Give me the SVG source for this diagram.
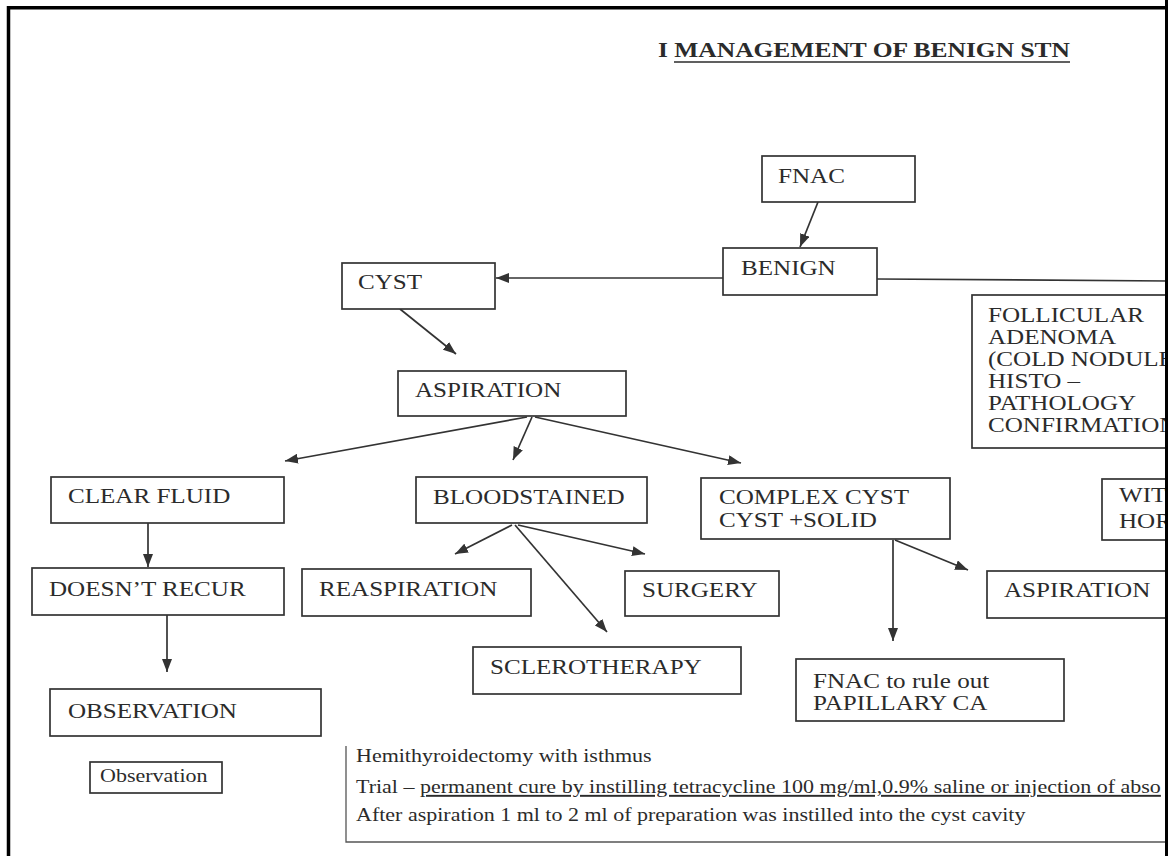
<svg xmlns="http://www.w3.org/2000/svg" width="1168" height="856" viewBox="0 0 1168 856">
<style>
  .box { fill: #ffffff; stroke: #333333; stroke-width: 1.7; }
  .lbl { font-family: "Liberation Serif", "Times New Roman", serif; font-size: 22px; fill: #2b2b2b; }
  .note { font-family: "Liberation Serif", "Times New Roman", serif; font-size: 19.3px; fill: #2b2b2b; }
  .title { font-family: "Liberation Serif", "Times New Roman", serif; font-size: 20px; font-weight: bold; fill: #2b2b2b; }
  .edge { stroke: #333333; stroke-width: 1.7; fill: none; }
  .edgea { stroke: #333333; stroke-width: 1.7; fill: none; marker-end: url(#ah); }
</style>
<defs>
  <marker id="ah" markerUnits="userSpaceOnUse" markerWidth="14" markerHeight="10" refX="13" refY="5" orient="auto">
    <path d="M0,0 L13,5 L0,10 z" fill="#333333"/>
  </marker>
</defs>
<rect x="0" y="0" width="1168" height="856" fill="#ffffff"/>

<g id="title">
  <text class="title" x="658" y="57" textLength="412" lengthAdjust="spacingAndGlyphs">I MANAGEMENT OF BENIGN STN</text>
  <line x1="674" y1="62" x2="1070" y2="62" stroke="#2b2b2b" stroke-width="1.6"/>
</g>

<g id="connectors">
  <line class="edgea" x1="818" y1="202" x2="800" y2="247"/>
  <line class="edgea" x1="723" y1="278" x2="496" y2="278"/>
  <line class="edge" x1="877" y1="279" x2="1168" y2="281"/>
  <line class="edgea" x1="400" y1="309" x2="456" y2="354"/>
  <line class="edgea" x1="527" y1="417" x2="285" y2="461"/>
  <line class="edgea" x1="532" y1="417" x2="513" y2="460"/>
  <line class="edgea" x1="535" y1="417" x2="741" y2="463"/>
  <line class="edgea" x1="148" y1="523" x2="148" y2="567"/>
  <line class="edgea" x1="167" y1="615" x2="167" y2="672"/>
  <line class="edgea" x1="512" y1="525" x2="455" y2="554"/>
  <line class="edgea" x1="515" y1="525" x2="607" y2="632"/>
  <line class="edgea" x1="518" y1="525" x2="645" y2="554"/>
  <line class="edgea" x1="893" y1="540" x2="893" y2="641"/>
  <line class="edgea" x1="895" y1="540" x2="968" y2="570"/>
</g>

<g id="fnac">
  <rect class="box" x="762" y="156" width="153" height="46"/>
  <text class="lbl" transform="translate(778,183) scale(1.14,1)">FNAC</text>
</g>
<g id="benign">
  <rect class="box" x="723" y="248" width="154" height="47"/>
  <text class="lbl" transform="translate(741,275) scale(1.14,1)">BENIGN</text>
</g>
<g id="cyst">
  <rect class="box" x="342" y="263" width="153" height="46"/>
  <text class="lbl" transform="translate(358,289) scale(1.14,1)">CYST</text>
</g>
<g id="aspiration">
  <rect class="box" x="398" y="371" width="228" height="45"/>
  <text class="lbl" transform="translate(415,397) scale(1.14,1)">ASPIRATION</text>
</g>
<g id="follicular">
  <rect class="box" x="972" y="295" width="230" height="153"/>
  <text class="lbl" transform="translate(988,322) scale(1.14,1)">FOLLICULAR</text>
  <text class="lbl" transform="translate(988,344) scale(1.14,1)">ADENOMA</text>
  <text class="lbl" transform="translate(988,366) scale(1.14,1)">(COLD NODULE</text>
  <text class="lbl" transform="translate(988,388) scale(1.14,1)">HISTO –</text>
  <text class="lbl" transform="translate(988,410) scale(1.14,1)">PATHOLOGY</text>
  <text class="lbl" transform="translate(988,432) scale(1.14,1)">CONFIRMATION</text>
</g>
<g id="clear-fluid">
  <rect class="box" x="51" y="477" width="233" height="46"/>
  <text class="lbl" transform="translate(68,503) scale(1.14,1)">CLEAR FLUID</text>
</g>
<g id="bloodstained">
  <rect class="box" x="416" y="477" width="231" height="46"/>
  <text class="lbl" transform="translate(433,504) scale(1.14,1)">BLOODSTAINED</text>
</g>
<g id="complex-cyst">
  <rect class="box" x="701" y="478" width="249" height="61"/>
  <text class="lbl" transform="translate(719,504) scale(1.14,1)">COMPLEX CYST</text>
  <text class="lbl" transform="translate(719,527) scale(1.14,1)">CYST +SOLID</text>
</g>
<g id="with-hormone">
  <rect class="box" x="1102" y="479" width="100" height="61"/>
  <text class="lbl" transform="translate(1119,502) scale(1.14,1)">WIT</text>
  <text class="lbl" transform="translate(1119,528) scale(1.14,1)">HOR</text>
</g>
<g id="doesnt-recur">
  <rect class="box" x="32" y="568" width="252" height="47"/>
  <text class="lbl" transform="translate(49,596) scale(1.14,1)">DOESN’T RECUR</text>
</g>
<g id="reaspiration">
  <rect class="box" x="302" y="569" width="229" height="47"/>
  <text class="lbl" transform="translate(319,596) scale(1.14,1)">REASPIRATION</text>
</g>
<g id="surgery">
  <rect class="box" x="625" y="571" width="154" height="45"/>
  <text class="lbl" transform="translate(642,597) scale(1.14,1)">SURGERY</text>
</g>
<g id="aspiration-2">
  <rect class="box" x="987" y="571" width="220" height="47"/>
  <text class="lbl" transform="translate(1004,597) scale(1.14,1)">ASPIRATION</text>
</g>
<g id="sclerotherapy">
  <rect class="box" x="473" y="647" width="268" height="47"/>
  <text class="lbl" transform="translate(490,674) scale(1.14,1)">SCLEROTHERAPY</text>
</g>
<g id="fnac-papillary">
  <rect class="box" x="796" y="659" width="268" height="62"/>
  <text class="lbl" transform="translate(813,688) scale(1.14,1)">FNAC to rule out</text>
  <text class="lbl" transform="translate(813,710) scale(1.14,1)">PAPILLARY CA</text>
</g>
<g id="observation">
  <rect class="box" x="50" y="689" width="271" height="47"/>
  <text class="lbl" transform="translate(68,718) scale(1.14,1)">OBSERVATION</text>
</g>
<g id="observation-small">
  <rect class="box" x="90" y="762" width="132" height="31" stroke-width="1.3"/>
  <text class="note" transform="translate(100,782) scale(1.14,1)">Observation</text>
</g>
<g id="notes">
  <path d="M346,746 V842 H1168" fill="none" stroke="#555555" stroke-width="1.3"/>
  <text class="note" transform="translate(356,762) scale(1.14,1)">Hemithyroidectomy with isthmus</text>
  <text class="note" transform="translate(356,793) scale(1.14,1)">Trial – <tspan text-decoration="underline">permanent cure by instilling tetracycline 100 mg/ml,0.9% saline or injection of abso</tspan></text>
  <text class="note" transform="translate(356,821) scale(1.14,1)">After aspiration 1 ml to 2 ml of preparation was instilled into the cyst cavity</text>
</g>

<g id="frame">
  <path d="M8.5,856 V7.8 H1168" fill="none" stroke="#000000" stroke-width="3.5"/>
  <rect x="1165" y="0" width="3" height="856" fill="#000000"/>
</g>
</svg>
